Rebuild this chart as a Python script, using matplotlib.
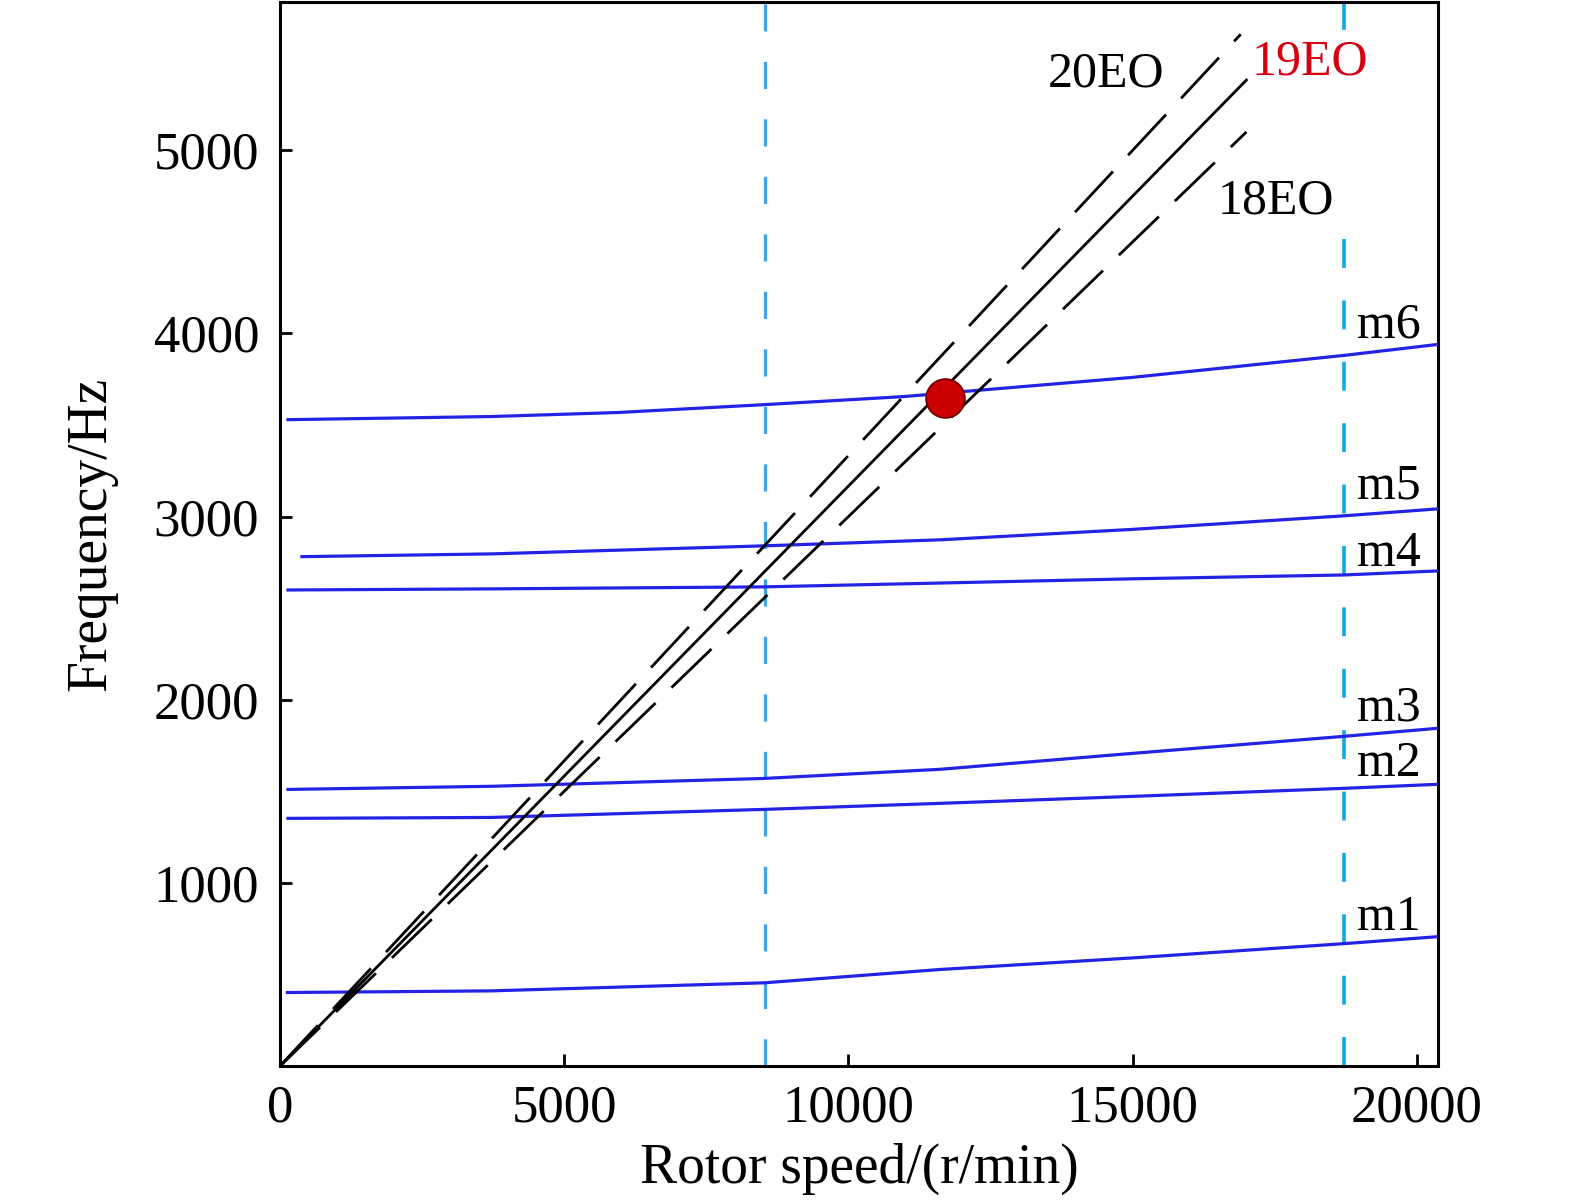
import numpy as np
import matplotlib
matplotlib.use("Agg")
import matplotlib.pyplot as plt

# engine orders (excitation lines) and the speed where each line stops
eo_orders = [20, 19, 18]
eo_end_speed = [16900, 17000, 17000]
eo_styles = ['dashed', 'solid', 'dashed']

# blade mode frequencies vs rotor speed
mode_names = ['m1', 'm2', 'm3', 'm4', 'm5', 'm6']
m1_speed = [130, 3710, 8520, 11620, 15000, 18720, 20370]
m1_freq = [401, 410, 454, 527, 590, 668, 706]
m2_speed = [140, 3710, 8520, 11620, 15000, 18720, 20370]
m2_freq = [1352, 1357, 1401, 1434, 1472, 1516, 1538]
m3_speed = [140, 3710, 8520, 11620, 15000, 18720, 20370]
m3_freq = [1510, 1527, 1570, 1620, 1707, 1800, 1844]
m4_speed = [140, 3710, 8520, 11620, 15000, 18720, 20370]
m4_freq = [2599, 2605, 2616, 2637, 2660, 2681, 2703]
m5_speed = [385, 3710, 8520, 11620, 15000, 18720, 20370]
m5_freq = [2781, 2796, 2840, 2873, 2930, 3004, 3042]
m6_speed = [140, 3710, 5940, 8520, 10970, 15000, 18720, 20370]
m6_freq = [3529, 3546, 3568, 3611, 3655, 3760, 3880, 3940]

# operating speed limits (vertical dashed lines)
speed_limits = [8530, 18720]

# resonance point on 19EO
res_speed = 11700
res_freq = 3650

# label anchors (left, baseline)
mode_label_x = 18950
mode_label_y = [744, 1581, 1888, 2731, 3097, 3978]
eo_label_x = [13500, 17100, 16500]
eo_label_y = [5346, 5412, 4657]
eo_label_colors = ['black', '#d40010', 'black']

plt.rcParams['font.family'] = ['Liberation Serif', 'DejaVu Serif']
plt.rcParams['font.size'] = 38

fig = plt.figure(figsize=(15.75, 12), dpi=100)
ax = fig.add_axes([0.1778, 0.1117, 0.7352, 0.8867])

mode_speeds = [m1_speed, m2_speed, m3_speed, m4_speed, m5_speed, m6_speed]
mode_freqs = [m1_freq, m2_freq, m3_freq, m4_freq, m5_freq, m6_freq]
for sp, fr in zip(mode_speeds, mode_freqs):
    ax.plot(sp, fr, color='#2323e6', lw=2.3, zorder=3)

for eo, end, ls in zip(eo_orders, eo_end_speed, eo_styles):
    sp = np.array([0, end])
    line, = ax.plot(sp, eo * sp / 60, color='black', lw=2.0, zorder=4)
    if ls == 'dashed':
        line.set_dashes((20, 8))

ax.plot([speed_limits[0]] * 2, [0, 5810], color='#3aa4ec', lw=2.3,
        dashes=(8.5, 9.5), zorder=2)
# right limit line is broken near the top labels
ax.plot([speed_limits[1]] * 2, [0, 4520], color='#12a6ea', lw=2.6,
        dashes=(8, 9), zorder=2)
ax.plot([speed_limits[1]] * 2, [5670, 5810], color='#12a6ea', lw=2.6, zorder=2)

ax.plot(res_speed, res_freq, 'o', ms=28, color='#cc0000',
        markeredgecolor='#6e0000', markeredgewidth=1.2, zorder=6)

for name, y in zip(mode_names, mode_label_y):
    ax.text(mode_label_x, y, name, fontsize=36, ha='left', va='baseline')
for eo, x, y, c in zip(eo_orders, eo_label_x, eo_label_y, eo_label_colors):
    ax.text(x, y, f'{eo}EO', fontsize=36, color=c, ha='left', va='baseline')

ax.set_xlim(0, 20370)
ax.set_ylim(0, 5810)
ax.set_xticks([0, 5000, 10000, 15000, 20000])
ax.set_yticks([1000, 2000, 3000, 4000, 5000])
ax.tick_params(direction='in', length=8.5, width=2, top=False, right=False)
ax.tick_params(axis='y', pad=15)
ax.tick_params(axis='x', pad=13)
for s in ax.spines.values():
    s.set_linewidth(2.2)

ax.set_xlabel('Rotor speed/(r/min)', fontsize=40, labelpad=8)
ax.set_ylabel('Frequency/Hz', fontsize=40, labelpad=26)

fig.savefig('out.png', dpi=100)
